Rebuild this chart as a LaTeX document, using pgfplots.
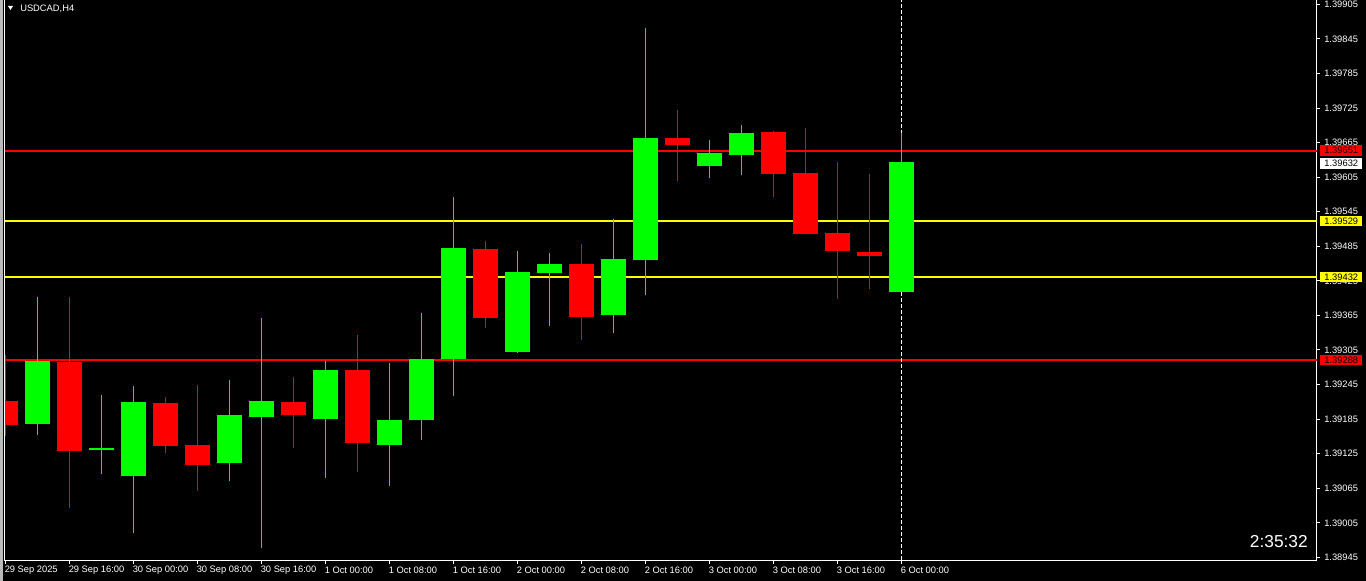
\documentclass[border=0pt]{standalone}
\usepackage{pgfplots}
\pgfplotsset{compat=1.18}
\usepackage{pgfplotstable}
\usepackage{fontspec}
\setmainfont{Liberation Sans}
\definecolor{cgreen}{RGB}{0,255,0}
\definecolor{cred}{RGB}{255,0,0}
\definecolor{cyellow}{RGB}{255,255,0}

% bullish candles: index, open, high, low, close
\pgfplotstableread{
i o h l c
1 1.39177 1.39397 1.39158 1.39286
3 1.39131 1.39227 1.39090 1.39135
4 1.39086 1.39243 1.38988 1.39215
7 1.39108 1.39253 1.39078 1.39192
8 1.39189 1.39361 1.38962 1.39217
10 1.39185 1.39286 1.39083 1.39270
12 1.39140 1.39282 1.39069 1.39184
13 1.39184 1.39369 1.39149 1.39290
14 1.39290 1.39571 1.39226 1.39482
16 1.39302 1.39477 1.39300 1.39440
17 1.39439 1.39473 1.39347 1.39454
19 1.39365 1.39532 1.39335 1.39463
20 1.39462 1.39864 1.39401 1.39673
22 1.39625 1.39670 1.39604 1.39647
23 1.39644 1.39696 1.39609 1.39682
28 1.39405 1.39682 1.39405 1.39632
}\up
% bearish candles
\pgfplotstableread{
i o h l c
0 1.39217 1.39296 1.39155 1.39175
2 1.39284 1.39397 1.39031 1.39130
5 1.39213 1.39223 1.39126 1.39139
6 1.39140 1.39244 1.39061 1.39105
9 1.39215 1.39258 1.39135 1.39192
11 1.39270 1.39331 1.39093 1.39144
15 1.39480 1.39494 1.39344 1.39361
18 1.39454 1.39489 1.39323 1.39363
21 1.39673 1.39722 1.39599 1.39661
24 1.39683 1.39685 1.39571 1.39611
25 1.39612 1.39690 1.39507 1.39507
26 1.39508 1.39631 1.39394 1.39476
27 1.39475 1.39611 1.39411 1.39469
}\down

\begin{document}
\begin{tikzpicture}[x=1pt,y=1pt]
\fill[black] (0,0) rectangle (1024.5,435.75);
\fill[gray!55] (0,0) rectangle (2.4,435.75);
\begin{axis}[
  at={(3.525pt,15pt)}, anchor=south west,
  scale only axis, width=984.2pt, height=420.75pt,
  xmin=-0.025, xmax=40.98, ymin=1.389387, ymax=1.399126,
  clip mode=individual,
  axis x line*=bottom, axis y line*=right,
  axis line style={white, line width=0.75pt},
  tick style={white, line width=0.75pt},
  tick align=outside, major tick length=2.25pt,
  ytick={1.38945,1.39005,1.39065,1.39125,1.39185,1.39245,1.39305,1.39365,1.39425,1.39485,1.39545,1.39605,1.39665,1.39725,1.39785,1.39845,1.39905},
  yticklabel style={anchor=west, inner sep=0pt, xshift=3pt, text=white, font=\fontsize{7}{8}\selectfont,
    /pgf/number format/.cd, fixed, fixed zerofill, precision=5, assume math mode=true},
  scaled y ticks=false,
  xtick={0,2,...,28},
  xticklabels={29 Sep 2025,29 Sep 16:00,30 Sep 00:00,30 Sep 08:00,30 Sep 16:00,1 Oct 00:00,1 Oct 08:00,1 Oct 16:00,2 Oct 00:00,2 Oct 08:00,2 Oct 16:00,3 Oct 00:00,3 Oct 08:00,3 Oct 16:00,6 Oct 00:00},
  xticklabel style={anchor=west, inner sep=0pt, xshift=-0.75pt, yshift=-4.9pt, text=white, font=\fontsize{7}{8}\selectfont},
]
% level lines
\addplot[cred, line width=1.5pt, forget plot] coordinates {(-1,1.39651) (42,1.39651)};
\addplot[cred, line width=1.5pt, forget plot] coordinates {(-1,1.39288) (42,1.39288)};
\addplot[cyellow, line width=1.5pt, forget plot] coordinates {(-1,1.39529) (42,1.39529)};
\addplot[cyellow, line width=1.5pt, forget plot] coordinates {(-1,1.39432) (42,1.39432)};
% current bar marker
\addplot[white, line width=0.75pt, dash pattern=on 3pt off 1.5pt, forget plot] coordinates {(28,1.3893) (28,1.3992)};
% wicks
\addplot[draw=none, mark=none, forget plot, error bars/.cd, y dir=plus, y explicit, error mark=none,
  error bar style={draw=cgreen, line width=0.9pt}]
  table[x=i, y=l, y error plus expr={\thisrow{h}-\thisrow{l}}] {\up};
\addplot[draw=none, mark=none, forget plot, error bars/.cd, y dir=plus, y explicit, error mark=none,
  error bar style={draw=cred, line width=0.9pt}]
  table[x=i, y=l, y error plus expr={\thisrow{h}-\thisrow{l}}] {\down};
% bodies
\addplot[draw=none, mark=none, forget plot, error bars/.cd, y dir=plus, y explicit, error mark=none,
  error bar style={draw=cgreen, line width=18.75pt}]
  table[x=i, y=o, y error plus expr={\thisrow{c}-\thisrow{o}}] {\up};
\addplot[draw=none, mark=none, forget plot, error bars/.cd, y dir=plus, y explicit, error mark=none,
  error bar style={draw=cred, line width=18.75pt}]
  table[x=i, y=c, y error plus expr={\thisrow{o}-\thisrow{c}}] {\down};
\coordinate (R1) at (axis cs:0,1.39651);
\coordinate (R2) at (axis cs:0,1.39632);
\coordinate (R3) at (axis cs:0,1.39529);
\coordinate (R4) at (axis cs:0,1.39432);
\coordinate (R5) at (axis cs:0,1.39288);
\end{axis}
\draw[white, line width=0.75pt] (3.525,15) -- (3.525,435.75);
\tikzset{pl/.style={anchor=west, minimum width=31.5pt, minimum height=7.8pt, inner sep=0pt, text=black, font=\fontsize{7}{8}\selectfont}}
\node[pl, fill=cred] at (990,0 |- R1) {1.39651};
\node[pl, fill=white, yshift=-1.5pt] at (990,0 |- R2) {1.39632};
\node[pl, fill=cyellow] at (990,0 |- R3) {1.39529};
\node[pl, fill=cyellow] at (990,0 |- R4) {1.39432};
\node[pl, fill=cred] at (990,0 |- R5) {1.39288};
% title and timer
\fill[white] (6,431.25) -- (9.75,431.25) -- (7.875,428.25) -- cycle;
\node[anchor=west, inner sep=0pt, text=white, font=\fontsize{7}{8}\selectfont] at (15,429.2) {USDCAD,H4};
\node[anchor=east, inner sep=0pt, text=white, font=\fontsize{13}{15}\selectfont] at (981,29.25) {2:35:32};
\pgfresetboundingbox
\useasboundingbox (0,0) rectangle (1024.5,435.75);
\end{tikzpicture}
\end{document}
